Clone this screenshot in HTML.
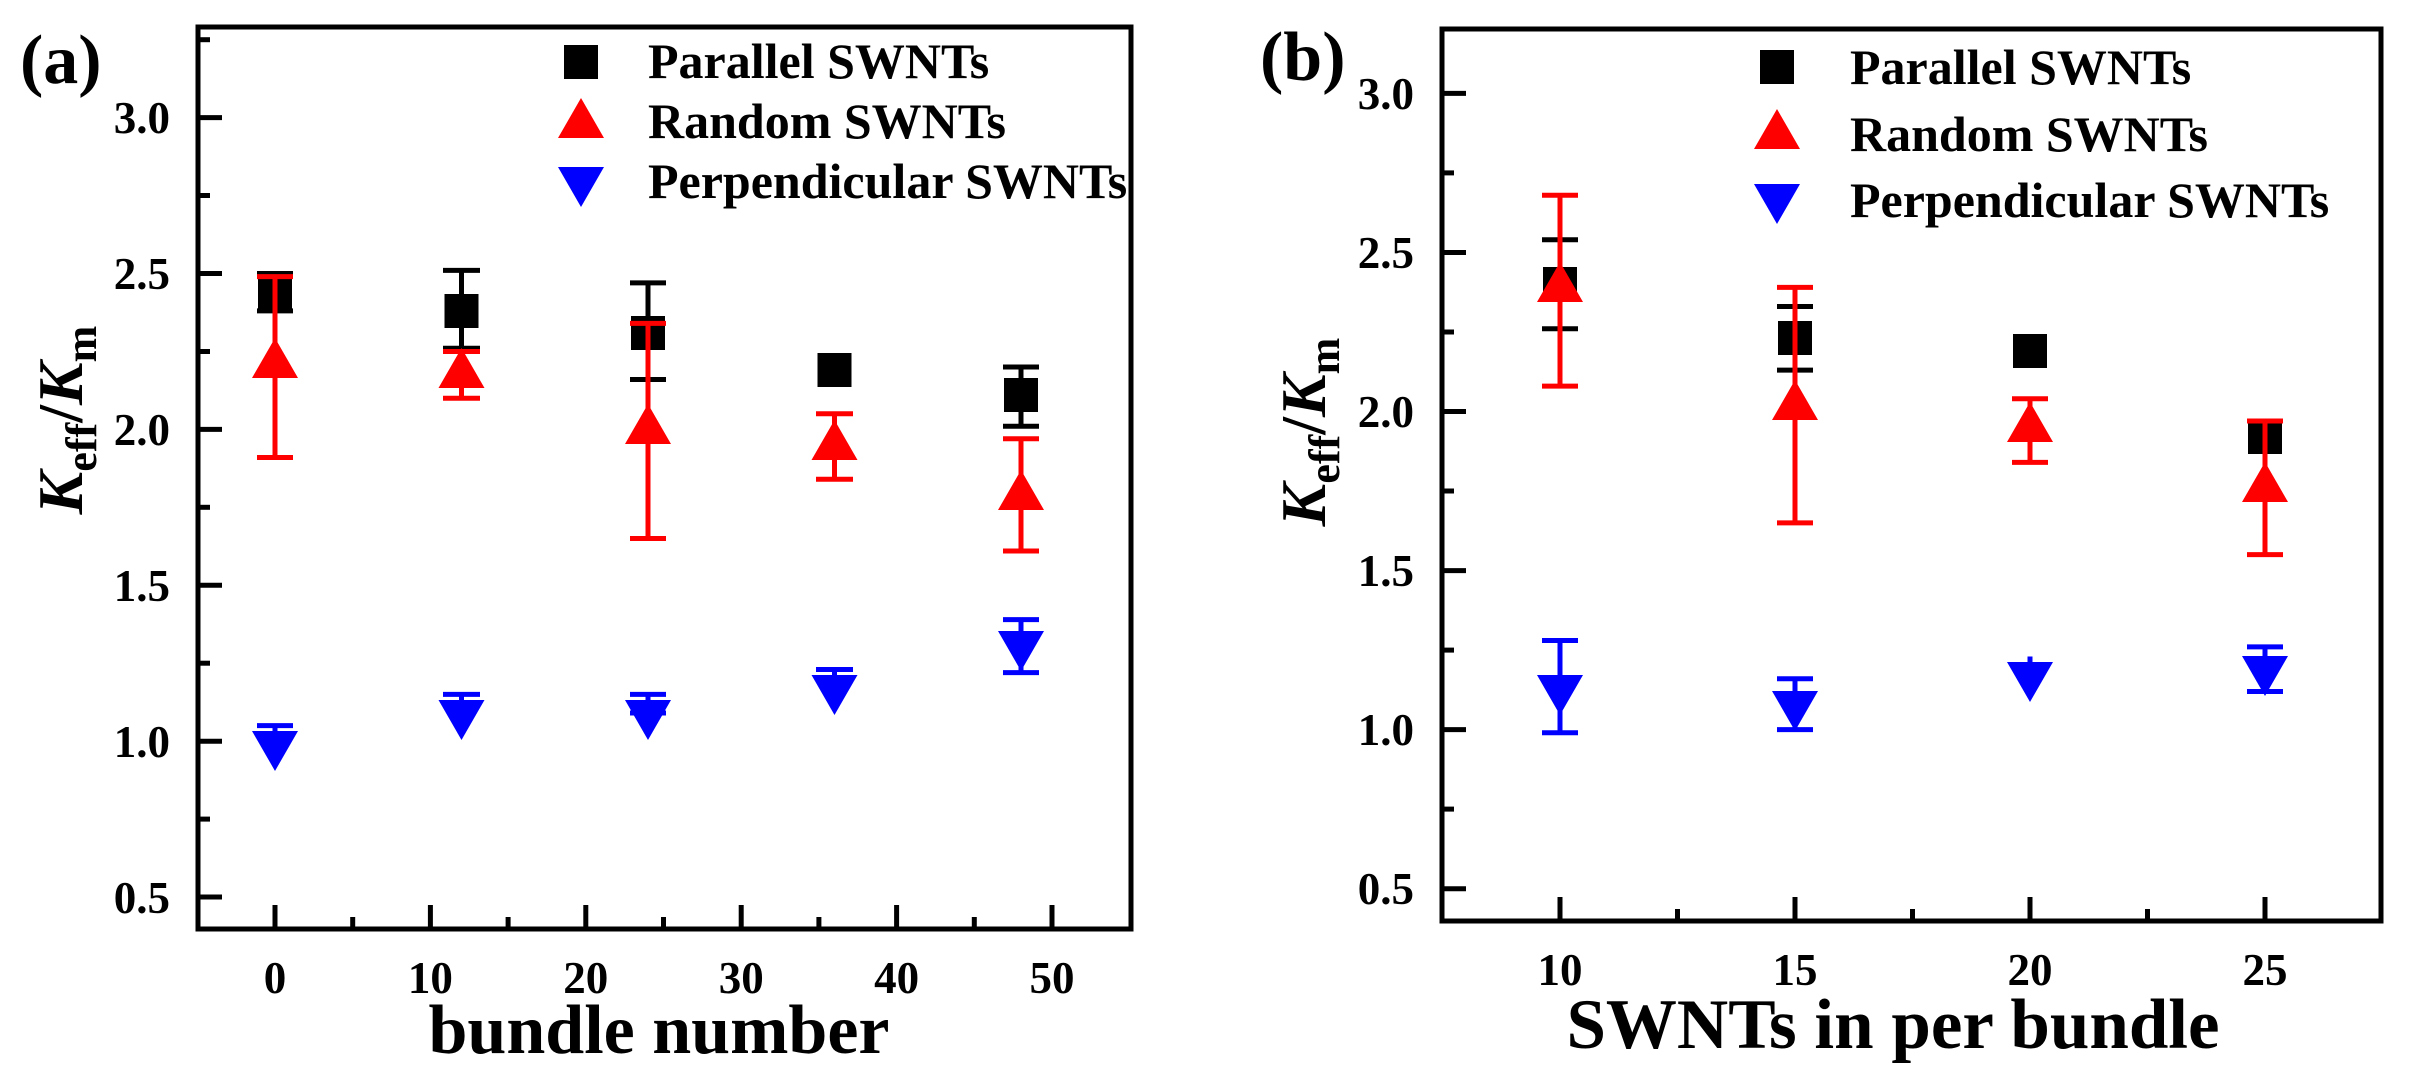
<!DOCTYPE html>
<html><head><meta charset="utf-8"><style>body{margin:0;background:#fff}svg{display:block}</style></head><body>
<svg width="2409" height="1079" viewBox="0 0 2409 1079" xmlns="http://www.w3.org/2000/svg" font-family="Liberation Serif, serif" font-weight="bold">
<rect width="2409" height="1079" fill="#fff"/>
<!-- Panel a -->
<rect x="198" y="27" width="933" height="902" fill="none" stroke="#000" stroke-width="5"/>
<g stroke="#000" stroke-width="5">
<line x1="198" y1="117.6" x2="222" y2="117.6"/><line x1="198" y1="273.5" x2="222" y2="273.5"/><line x1="198" y1="429.4" x2="222" y2="429.4"/><line x1="198" y1="585.3" x2="222" y2="585.3"/><line x1="198" y1="741.2" x2="222" y2="741.2"/><line x1="198" y1="897" x2="222" y2="897"/>
<line x1="198" y1="39.7" x2="210" y2="39.7"/><line x1="198" y1="195.5" x2="210" y2="195.5"/><line x1="198" y1="351.5" x2="210" y2="351.5"/><line x1="198" y1="507.3" x2="210" y2="507.3"/><line x1="198" y1="663.2" x2="210" y2="663.2"/><line x1="198" y1="819.1" x2="210" y2="819.1"/>
<line x1="275" y1="929" x2="275" y2="905"/><line x1="430.4" y1="929" x2="430.4" y2="905"/><line x1="585.8" y1="929" x2="585.8" y2="905"/><line x1="741.2" y1="929" x2="741.2" y2="905"/><line x1="896.6" y1="929" x2="896.6" y2="905"/><line x1="1052" y1="929" x2="1052" y2="905"/>
<line x1="352.7" y1="929" x2="352.7" y2="917"/><line x1="508.1" y1="929" x2="508.1" y2="917"/><line x1="663.5" y1="929" x2="663.5" y2="917"/><line x1="818.9" y1="929" x2="818.9" y2="917"/><line x1="974.3" y1="929" x2="974.3" y2="917"/>
</g>
<g font-size="45" text-anchor="end">
<text x="170" y="133">3.0</text><text x="170" y="289">2.5</text><text x="170" y="445">2.0</text><text x="170" y="601">1.5</text><text x="170" y="757">1.0</text><text x="170" y="913">0.5</text>
</g>
<g font-size="45" text-anchor="middle">
<text x="275" y="993">0</text><text x="430.4" y="993">10</text><text x="585.8" y="993">20</text><text x="741.2" y="993">30</text><text x="896.6" y="993">40</text><text x="1052" y="993">50</text>
</g>
<text x="659" y="1053" font-size="70" text-anchor="middle">bundle number</text>
<text x="20" y="83" font-size="70">(a)</text>
<text transform="translate(82,420) rotate(-90)" font-size="64" text-anchor="middle"><tspan font-style="italic">K</tspan><tspan font-size="44" dy="14">eff</tspan><tspan dy="-14">/</tspan><tspan font-style="italic">K</tspan><tspan font-size="44" dy="14">m</tspan></text>
<!-- legend a -->
<rect x="564" y="45" width="34" height="34" fill="#000"/>
<polygon points="581,98 604,138 558,138" fill="#f00"/>
<polygon points="558,167 604,167 581,207" fill="#00f"/>
<g font-size="50"><text x="648" y="78">Parallel SWNTs</text><text x="648" y="138">Random SWNTs</text><text x="648" y="198">Perpendicular SWNTs</text></g>
<!-- error bars a -->
<g stroke="#000" stroke-width="5">
<path d="M275 273.5V310.9M257 273.5H293M257 310.9H293"/>
<path d="M461.5 270.4V348.3M443 270.4H480M443 348.3H480"/>
<path d="M648 282.9V379.5M630 282.9H666M630 379.5H666"/>
<path d="M1021 367V426.3M1003 367H1039M1003 426.3H1039"/>
</g>
<g fill="#000">
<rect x="258" y="278" width="34" height="34"/><rect x="444.5" y="294" width="34" height="34"/><rect x="631" y="316" width="34" height="34"/><rect x="817.5" y="353" width="34" height="34"/><rect x="1004" y="378" width="34" height="34"/>
</g>
<g stroke="#f00" stroke-width="5">
<path d="M275 276.6V457.5M257 276.6H293M257 457.5H293"/>
<path d="M461.5 351.5V398.2M443 351.5H480M443 398.2H480"/>
<path d="M648 323.4V538.5M630 323.4H666M630 538.5H666"/>
<path d="M834.5 413.8V479.3M816 413.8H853M816 479.3H853"/>
<path d="M1021 438.8V551M1003 438.8H1039M1003 551H1039"/>
</g>
<g fill="#f00">
<polygon points="275,338 298,378 252,378"/><polygon points="461.5,348 484.5,388 438.5,388"/><polygon points="648,404 671,444 625,444"/><polygon points="834.5,420 857.5,460 811.5,460"/><polygon points="1021,470 1044,510 998,510"/>
</g>
<g stroke="#00f" stroke-width="5">
<path d="M275 725.6V744.3M257 725.6H293"/>
<path d="M461.5 694.4V713.1M443 694.4H480"/>
<path d="M648 694.4V713.1M630 694.4H666M630 713H666"/>
<path d="M834.5 669.5V688.2M816 669.5H853"/>
<path d="M1021 619.6V672.6M1003 619.6H1039M1003 672.6H1039"/>
</g>
<g fill="#00f">
<polygon points="252,731 298,731 275,771"/><polygon points="438.5,700 484.5,700 461.5,740"/><polygon points="625,700 671,700 648,740"/><polygon points="811.5,675 857.5,675 834.5,715"/><polygon points="998,631 1044,631 1021,671"/>
</g>
<!-- Panel b -->
<rect x="1442" y="29" width="939" height="892" fill="none" stroke="#000" stroke-width="5"/>
<g stroke="#000" stroke-width="5">
<line x1="1442" y1="93.4" x2="1466" y2="93.4"/><line x1="1442" y1="252.5" x2="1466" y2="252.5"/><line x1="1442" y1="411.5" x2="1466" y2="411.5"/><line x1="1442" y1="570.6" x2="1466" y2="570.6"/><line x1="1442" y1="729.6" x2="1466" y2="729.6"/><line x1="1442" y1="888.7" x2="1466" y2="888.7"/>
<line x1="1442" y1="172.9" x2="1454" y2="172.9"/><line x1="1442" y1="332" x2="1454" y2="332"/><line x1="1442" y1="491" x2="1454" y2="491"/><line x1="1442" y1="650.1" x2="1454" y2="650.1"/><line x1="1442" y1="809.1" x2="1454" y2="809.1"/>
<line x1="1560" y1="921" x2="1560" y2="897"/><line x1="1795" y1="921" x2="1795" y2="897"/><line x1="2030" y1="921" x2="2030" y2="897"/><line x1="2265" y1="921" x2="2265" y2="897"/>
<line x1="1677.5" y1="921" x2="1677.5" y2="909"/><line x1="1912.5" y1="921" x2="1912.5" y2="909"/><line x1="2147.5" y1="921" x2="2147.5" y2="909"/>
</g>
<g font-size="45" text-anchor="end">
<text x="1414" y="109">3.0</text><text x="1414" y="268">2.5</text><text x="1414" y="427">2.0</text><text x="1414" y="586">1.5</text><text x="1414" y="745">1.0</text><text x="1414" y="904">0.5</text>
</g>
<g font-size="45" text-anchor="middle">
<text x="1560" y="985">10</text><text x="1795" y="985">15</text><text x="2030" y="985">20</text><text x="2265" y="985">25</text>
</g>
<text x="1893" y="1048" font-size="71" text-anchor="middle">SWNTs in per bundle</text>
<text x="1260" y="80" font-size="70">(b)</text>
<text transform="translate(1325,432) rotate(-90)" font-size="64" text-anchor="middle"><tspan font-style="italic">K</tspan><tspan font-size="44" dy="14">eff</tspan><tspan dy="-14">/</tspan><tspan font-style="italic">K</tspan><tspan font-size="44" dy="14">m</tspan></text>
<rect x="1760" y="50" width="34" height="34" fill="#000"/>
<polygon points="1777,109 1800,149 1754,149" fill="#f00"/>
<polygon points="1754,184 1800,184 1777,224" fill="#00f"/>
<g font-size="50"><text x="1850" y="84">Parallel SWNTs</text><text x="1850" y="151">Random SWNTs</text><text x="1850" y="217">Perpendicular SWNTs</text></g>
<g stroke="#000" stroke-width="5">
<path d="M1560 239.7V328.8M1542 239.7H1578M1542 328.8H1578"/>
<path d="M1795 306.5V370.1M1777 306.5H1813M1777 370.1H1813"/>
<path d="M2265 421V452.9M2247 421H2283"/>
</g>
<g fill="#000">
<rect x="1543" y="267" width="34" height="34"/><rect x="1778" y="321" width="34" height="34"/><rect x="2013" y="334" width="34" height="34"/><rect x="2248" y="420" width="34" height="34"/>
</g>
<g stroke="#f00" stroke-width="5">
<path d="M1560 195.2V386.1M1542 195.2H1578M1542 386.1H1578"/>
<path d="M1795 287.4V522.9M1777 287.4H1813M1777 522.9H1813"/>
<path d="M2030 398.8V462.4M2012 398.8H2048M2012 462.4H2048"/>
<path d="M2265 421V554.6M2247 421H2283M2247 554.6H2283"/>
</g>
<g fill="#f00">
<polygon points="1560,262 1583,302 1537,302"/><polygon points="1795,380 1818,420 1772,420"/><polygon points="2030,402 2053,442 2007,442"/><polygon points="2265,462 2288,502 2242,502"/>
</g>
<g stroke="#00f" stroke-width="5">
<path d="M1560 640.5V732.8M1542 640.5H1578M1542 732.8H1578"/>
<path d="M1795 678.7V729.6M1777 678.7H1813M1777 729.6H1813"/>
<path d="M2030 656.5V675.5"/>
<path d="M2265 646.9V691.5M2247 646.9H2283M2247 691.5H2283"/>
</g>
<g fill="#00f">
<polygon points="1537,675 1583,675 1560,715"/><polygon points="1772,691 1818,691 1795,731"/><polygon points="2007,662 2053,662 2030,702"/><polygon points="2242,656 2288,656 2265,696"/>
</g>
</svg>
</body></html>
